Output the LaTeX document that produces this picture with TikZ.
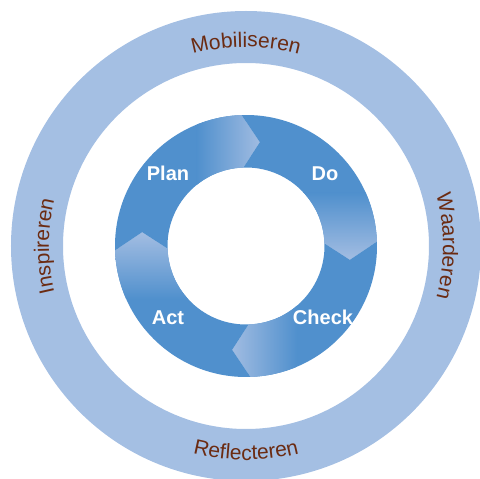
\documentclass[tikz,border=0pt]{standalone}
\usepackage{fontspec}
\setmainfont{Liberation Sans}
\usetikzlibrary{decorations.text}

\definecolor{ringblue}{HTML}{A4BFE3}
\definecolor{pdcadark}{HTML}{5090CD}
\definecolor{pdcalight}{HTML}{A3BDE2}
\definecolor{ringbrown}{HTML}{6B2B12}

\newcommand{\ringfont}{\fontsize{21}{25}\selectfont}

\tikzstyle{pdca} = [text=white, font=\bfseries\fontsize{20}{24}\selectfont, anchor=base]
\tikzset{
  ringword/.style={decorate, decoration={text along path, text align=center,
      text color=ringbrown, text={|\ringfont|#1}}},
  arrowseg/.style={insert path={(#1:131pt) arc[start angle=#1, end angle=#1-90, radius=131pt]
      -- ({#1-99.5}:104.75pt) -- ({#1-90}:78.5pt) arc[start angle=#1-90, end angle=#1, radius=78.5pt]
      -- ({#1-9.5}:104.75pt) -- cycle}}
}

\begin{document}
\begin{tikzpicture}
    \useasboundingbox (-246pt,-233pt) rectangle (234pt,246pt);
    \clip (-246pt,-233pt) rectangle (234pt,246pt);

    % outer ring
    \fill [ringblue, even odd rule] (0,0) circle[radius=235pt] (0,0) circle[radius=183pt];
    \path [ringword=Mobiliseren] (180:199pt) arc[start angle=180, end angle=0, radius=199pt];
    \path [ringword=Waarderen] (90:197pt) arc[start angle=90, end angle=-90, radius=197pt];
    \path [ringword=Reflecteren] (180:214pt) arc[start angle=180, end angle=360, radius=214pt];
    \path [ringword=Inspireren] (270:197pt) arc[start angle=270, end angle=90, radius=197pt];

    % pdca cycle
    \fill [pdcadark, arrowseg=182];
    \fill [pdcadark, arrowseg=92];
    \fill [pdcadark, arrowseg=2];
    \fill [pdcadark, arrowseg=-88];
    \begin{scope}
        \clip [arrowseg=182];
        \shade [left color=pdcadark, right color=pdcalight] (-49pt,0pt) rectangle (16pt,140pt);
    \end{scope}
    \begin{scope}
        \clip [arrowseg=92];
        \shade [top color=pdcadark, bottom color=pdcalight] (0pt,53pt) rectangle (140pt,-14pt);
    \end{scope}
    \begin{scope}
        \clip [arrowseg=2];
        \shade [left color=pdcalight, right color=pdcadark] (-16pt,0pt) rectangle (51pt,-140pt);
    \end{scope}
    \begin{scope}
        \clip [arrowseg=-88];
        \shade [top color=pdcalight, bottom color=pdcadark] (0pt,14pt) rectangle (-140pt,-53pt);
    \end{scope}

    \node [pdca] (Plan) at (-78pt,65pt) {Plan};
    \node [pdca] (Do) at (79pt,65pt) {Do};
    \node [pdca] (Act) at (-78pt,-79pt) {Act};
    \node [pdca] (Check) at (77pt,-79pt) {Check};
\end{tikzpicture}
\end{document}
